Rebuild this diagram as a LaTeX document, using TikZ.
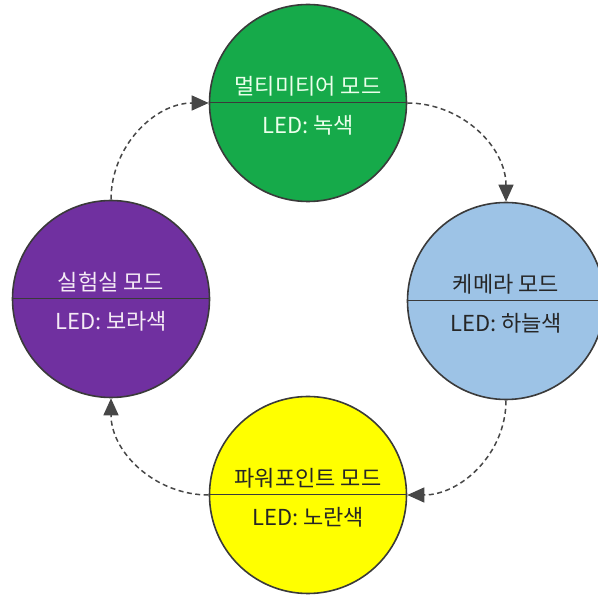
\documentclass[tikz,border=0pt]{standalone}
\usepackage{fontspec}
\setmainfont{Noto Sans CJK KR}
\usetikzlibrary{positioning,arrows.meta}

\definecolor{modegreen}{RGB}{22,170,74}
\definecolor{modeblue}{RGB}{157,195,230}
\definecolor{modeyellow}{RGB}{255,255,0}
\definecolor{modepurple}{RGB}{112,48,160}
\definecolor{edgegray}{RGB}{58,58,58}

\begin{document}
\begin{tikzpicture}[x=1pt,y=1pt]
  \useasboundingbox (0,0) rectangle (598,598);
  \begin{scope}[
    modecircle/.style={
      circle,
      draw=edgegray,
      line width=1.6pt,
      minimum size=197pt,
      inner sep=0pt,
    },
    modetext/.style={
      inner sep=0pt,
      font=\fontsize{22}{26}\selectfont,
    },
    ]
    % green
    \node [modecircle,fill=modegreen] (green) at (308,495) {};
    % blue
    \node [modecircle,fill=modeblue] (blue) at (506,297) {};
    % yellow
    \node [modecircle,fill=modeyellow] (yellow) at (308,103) {};
    % purple
    \node [modecircle,fill=modepurple] (purple) at (111,299) {};

    \draw [edgegray,line width=1pt] (green.west) -- (green.east);
    \draw [edgegray,line width=1pt] (blue.west) -- (blue.east);
    \draw [edgegray,line width=1pt] (yellow.west) -- (yellow.east);
    \draw [edgegray,line width=1pt] (purple.west) -- (purple.east);

    \node [modetext,text=green!8!white,above=7pt of green.center] (greentitle) {멀티미티어 모드};
    \node [modetext,text=green!8!white,below=12pt of green.center] (greenled) {LED: 녹색};
    \node [modetext,text=black!85,above=7pt of blue.center] (bluetitle) {케메라 모드};
    \node [modetext,text=black!85,below=12pt of blue.center] (blueled) {LED: 하늘색};
    \node [modetext,text=black!85,above=7pt of yellow.center] (yellowtitle) {파워포인트 모드};
    \node [modetext,text=black!85,below=12pt of yellow.center] (yellowled) {LED: 노란색};
    \node [modetext,text=violet!8!white,above=7pt of purple.center] (purpletitle) {실험실 모드};
    \node [modetext,text=violet!8!white,below=12pt of purple.center] (purpleled) {LED: 보라색};
  \end{scope}
  \begin{scope}[
    modearrow/.style={
      -{Triangle[length=17pt,width=15pt]},
      dashed,
      dash pattern=on 5pt off 3.5pt,
      line width=1.5pt,
      draw=black!72,
    },
    ]
    % cycle of modes
    \draw [modearrow] (purple.north) to [out=90,in=180] (green.west);
    \draw [modearrow] (green.east) to [out=0,in=90] (blue.north);
    \draw [modearrow] (blue.south) to [out=-90,in=0] (yellow.east);
    \draw [modearrow] (yellow.west) to [out=180,in=-90] (purple.south);
  \end{scope}
\end{tikzpicture}
\end{document}
